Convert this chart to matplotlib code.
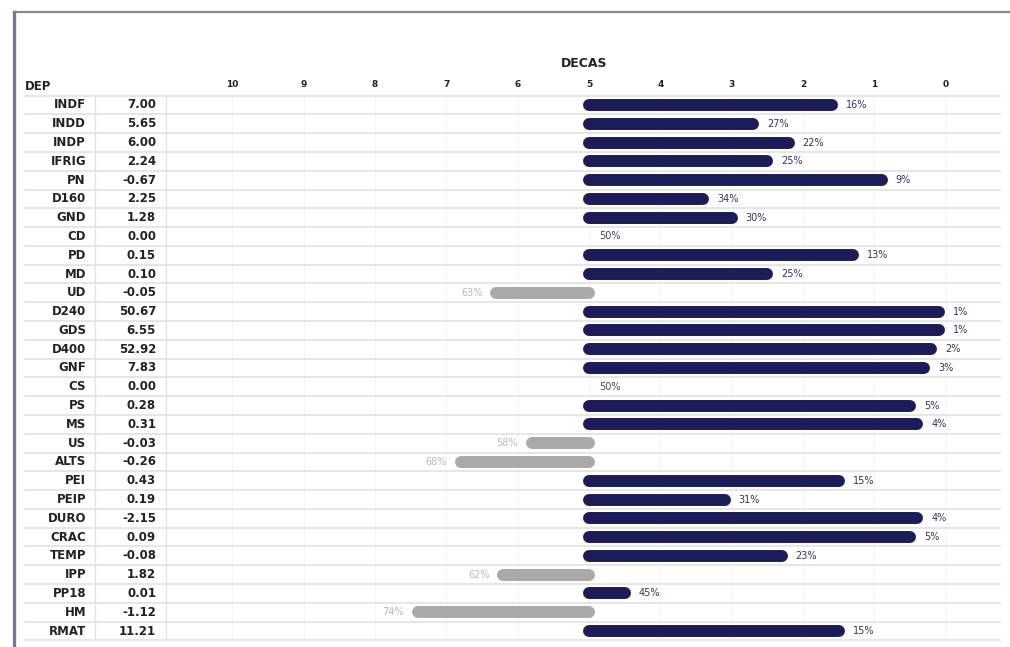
import matplotlib
matplotlib.use("Agg")
import matplotlib.pyplot as plt
from matplotlib.lines import Line2D
from matplotlib.transforms import blended_transform_factory

# rows of the table (top to bottom)
DEPS = ["INDF", "INDD", "INDP", "IFRIG", "PN", "D160", "GND", "CD", "PD", "MD",
        "UD", "D240", "GDS", "D400", "GNF", "CS", "PS", "MS", "US", "ALTS",
        "PEI", "PEIP", "DURO", "CRAC", "TEMP", "IPP", "PP18", "HM", "RMAT"]
VALUES = ["7.00", "5.65", "6.00", "2.24", "-0.67", "2.25", "1.28", "0.00", "0.15", "0.10",
          "-0.05", "50.67", "6.55", "52.92", "7.83", "0.00", "0.28", "0.31", "-0.03", "-0.26",
          "0.43", "0.19", "-2.15", "0.09", "-0.08", "1.82", "0.01", "-1.12", "11.21"]
PERCENT = [16, 27, 22, 25, 9, 34, 30, 50, 13, 25,
           63, 1, 1, 2, 3, 50, 5, 4, 58, 68,
           15, 31, 4, 5, 23, 62, 45, 74, 15]
DECAS_TICKS = [10, 9, 8, 7, 6, 5, 4, 3, 2, 1, 0]

NAVY = "#1c1c58"
GREY = "#a9a9a9"
LINE = "#e2e2e2"

W, H = 1010, 647
fig = plt.figure(figsize=(W / 100, H / 100), dpi=100)
fig.patch.set_facecolor("white")

# axes for the bars: pixels 168..1000 horizontally, rows 95.6..640.4
ax = fig.add_axes([168 / W, 1 - 640.4 / H, 832 / W, (640.4 - 95.6) / H])
n = len(DEPS)
ax.set_xlim(10.9, -0.76)
ax.set_ylim(n - 0.5, -0.5)
for s in ax.spines.values():
    s.set_visible(False)
ax.set_yticks([])
ax.xaxis.tick_top()
ax.set_xticks(DECAS_TICKS)
ax.set_xticklabels([str(t) for t in DECAS_TICKS], fontsize=6.5, fontweight="bold",
                   color="#222222")
ax.tick_params(axis="x", length=0, pad=5)
ax.set_title("DECAS", fontsize=9, fontweight="bold", color="#222222", pad=20.5)

# faint vertical guides at each tick
for t in DECAS_TICKS:
    ax.axvline(t, color="#f5f5f5", lw=0.8, zorder=0)

# row separators across the whole table
x0 = (25 - 168) / 832
for i in range(n + 1):
    ax.axhline(i - 0.5, xmin=x0, xmax=1, color=LINE, lw=1.2, clip_on=False, zorder=1)

# bars
for i, p in enumerate(PERCENT):
    end = p / 10
    if p < 50:
        ax.hlines(i, 5, end, color=NAVY, lw=8.6, capstyle="round", zorder=3)
        ax.annotate(f"{p}%", (end, i), xytext=(10, 0), textcoords="offset points",
                    ha="left", va="center", fontsize=7, color="#33335a")
    elif p > 50:
        ax.hlines(i, 5, end, color=GREY, lw=8.6, capstyle="round", zorder=3)
        ax.annotate(f"{p}%", (end, i), xytext=(-10, 0), textcoords="offset points",
                    ha="right", va="center", fontsize=7, color="#b8b8b8")
    else:
        ax.annotate(f"{p}%", (end, i), xytext=(7, 0), textcoords="offset points",
                    ha="left", va="center", fontsize=7, color="#444466")

# table columns, placed in figure pixels horizontally and row units vertically
tr = blended_transform_factory(fig.transFigure, ax.transData)
for i, (d, v) in enumerate(zip(DEPS, VALUES)):
    ax.text(86 / W, i, d, transform=tr, ha="right", va="center",
            fontsize=8.5, fontweight="bold", color="#222222")
    ax.text(156 / W, i, v, transform=tr, ha="right", va="center",
            fontsize=8.5, fontweight="bold", color="#222222")
for xp in (95, 166):
    ax.add_line(Line2D([xp / W, xp / W], [-0.5, n - 0.5], transform=tr,
                       color=LINE, lw=1, clip_on=False))
fig.text(25 / W, 1 - 86 / H, "DEP", ha="left", va="center",
         fontsize=8.5, fontweight="bold", color="#222222")

# frame of the panel
fig.add_artist(Line2D([14 / W, 1], [1 - 12 / H, 1 - 12 / H], color="#8a8a8a", lw=1.6))
fig.add_artist(Line2D([14 / W, 14 / W], [0, 1 - 12 / H], color="#77779a", lw=2.4))

fig.savefig("out.png", dpi=100, facecolor="white")
